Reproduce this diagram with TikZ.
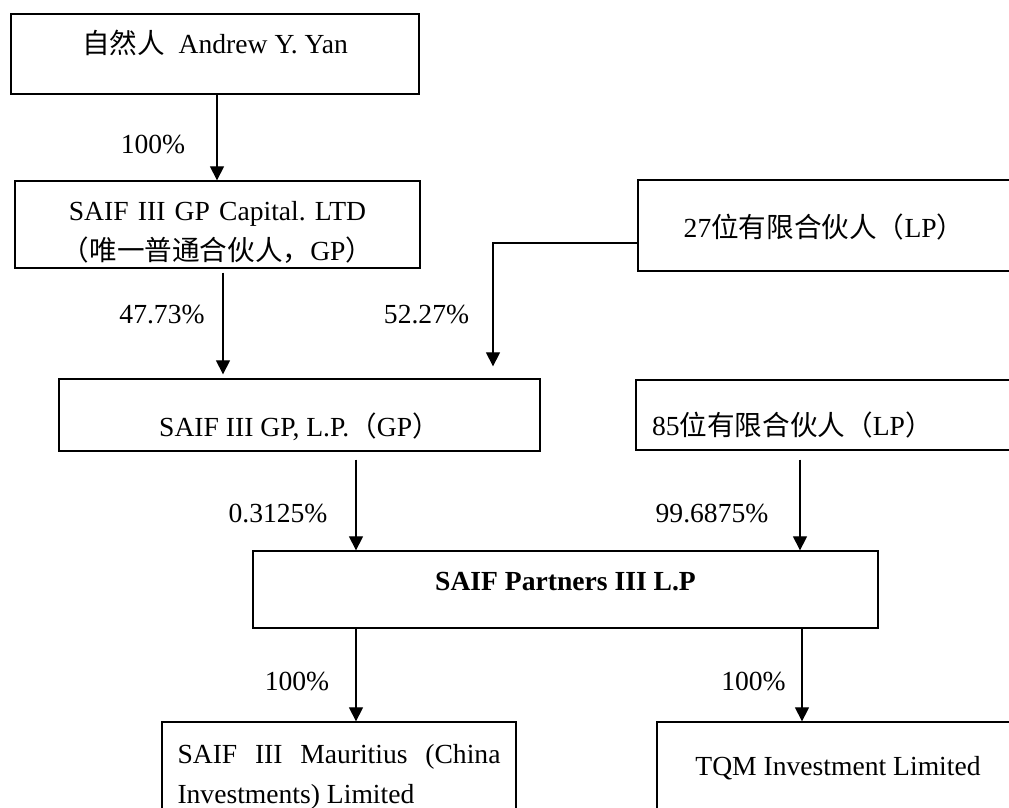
\documentclass[tikz,border=0pt]{standalone}
\usepackage{fontspec}
\setmainfont{Liberation Serif}
\newfontfamily\cjk{Noto Sans CJK SC}
\usetikzlibrary{arrows.meta}
\frenchspacing
\begin{document}
\begin{tikzpicture}[x=1pt, y=-1pt,
  every node/.style = {font=\fontsize{27.6pt}{40pt}\selectfont},
  box/.style = {draw, shape=rectangle, line width=1.3pt, inner sep=0pt,
     align=center},
  pct/.style = {anchor=base, inner sep=0pt},
  link/.style = {line width=1.2pt, -{Triangle[width=14pt, length=14pt]}}]
\useasboundingbox (0,0) rectangle (1009,808);
\clip (0,0) rectangle (1009,808);
\node [box, minimum width=408pt, minimum height=80pt, text height=20pt,
  text depth=22pt] (yan) at (215,54) {{\cjk 自然人}\ \ Andrew Y. Yan};
\node [box, minimum width=405pt, minimum height=87pt, text width=405pt,
  text height=20pt, text depth=29pt] (gpcap) at (217.5,224.5)
  {SAIF III GP Capital. LTD\\{\cjk （唯一普通合伙人，}GP{\cjk ）}};
\node [box, minimum width=372pt, minimum height=91pt, text height=25pt,
  text depth=2pt] (lp27) at (824,225.5) {27{\cjk 位有限合伙人（}LP{\cjk ）}};
\node [box, minimum width=481pt, minimum height=72pt, text height=46pt,
  text depth=4pt] (gplp) at (299.5,415) {SAIF III GP, L.P.{\cjk （}GP{\cjk ）}};
\node [box, minimum width=404pt, minimum height=70pt, text width=372pt,
  inner xsep=16pt, align=left, text height=44pt, text depth=4pt]
  (lp85) at (838,415) {85{\cjk 位有限合伙人（}LP{\cjk ）}};
\node [box, minimum width=625pt, minimum height=77pt, text height=20pt,
  text depth=19pt] (partners) at (565.5,589.5) {\textbf{SAIF Partners III L.P}};
\node [box, minimum width=354pt, minimum height=108pt, text width=323pt,
  inner xsep=15.5pt, align=justify, text height=20pt, text depth=46pt]
  (mauritius) at (339,776) {SAIF III Mauritius (China\linebreak Investments) Limited};
\node [box, minimum width=362pt, minimum height=108pt, text height=20pt,
  text depth=22pt] (tqm) at (838,776) {TQM Investment Limited};

\draw [link] (217,0 |- yan.south) -- (217,0 |- gpcap.north);
\draw [link, shorten <=4pt, shorten >=4pt] (223,0 |- gpcap.south)
  -- (223,0 |- gplp.north);
\draw [link, shorten >=12pt] (lp27.west |- 0,243) -| (493,0 |- gplp.north);
\draw [link, shorten <=8pt] (356,0 |- gplp.south) -- (356,0 |- partners.north);
\draw [link, shorten <=9pt] (800,0 |- lp85.south) -- (800,0 |- partners.north);
\draw [link] (356,0 |- partners.south) -- (356,0 |- mauritius.north);
\draw [link] (802,0 |- partners.south) -- (802,0 |- tqm.north);

\node [pct] (own1) at (153,153) {100\%};
\node [pct] (own2) at (162,323) {47.73\%};
\node [pct] (own3) at (426.5,323) {52.27\%};
\node [pct] (own4) at (278,522) {0.3125\%};
\node [pct] (own5) at (712,522) {99.6875\%};
\node [pct] (own6) at (297,690) {100\%};
\node [pct] (own7) at (753.5,690) {100\%};
\end{tikzpicture}
\end{document}
